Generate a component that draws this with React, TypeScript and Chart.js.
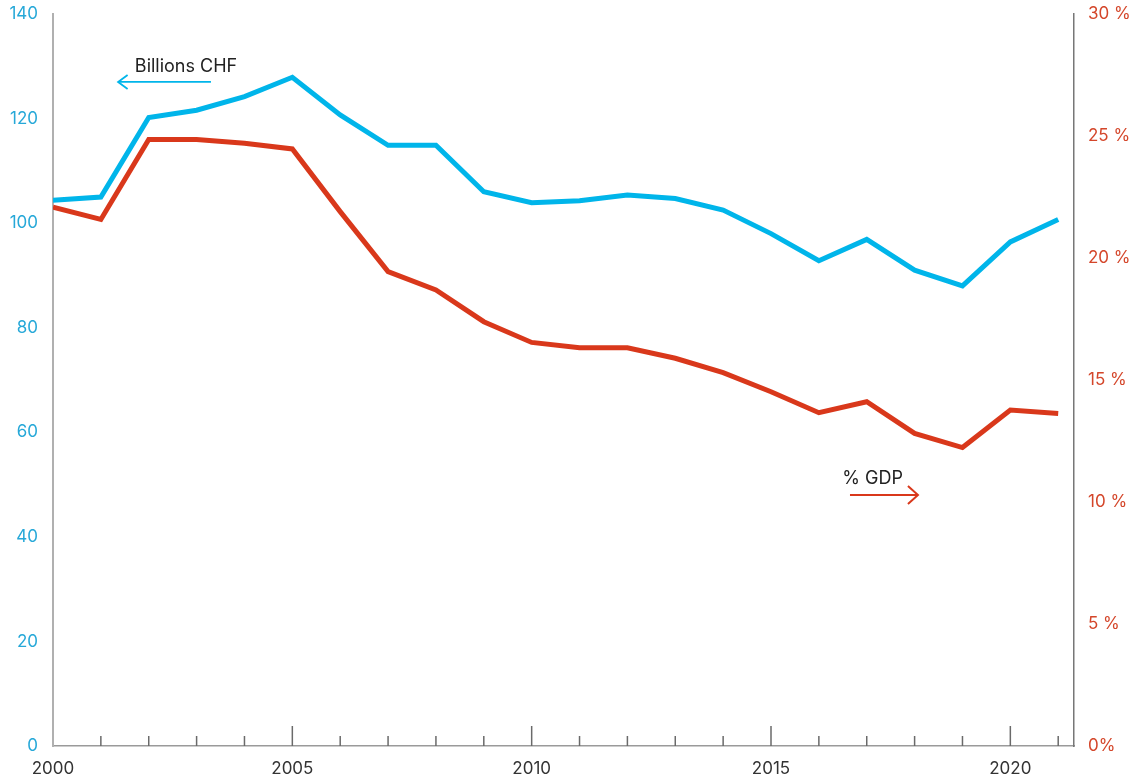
import React, { useEffect, useRef } from "react";
import { Chart, registerables } from "chart.js";

Chart.register(...registerables);

const years = [2000, 2001, 2002, 2003, 2004, 2005, 2006, 2007, 2008, 2009, 2010, 2011, 2012, 2013, 2014, 2015, 2016, 2017, 2018, 2019, 2020, 2021];
const billionsCHF = [104.4, 105.0, 120.2, 121.6, 124.2, 127.9, 120.7, 114.9, 114.9, 106.0, 103.9, 104.3, 105.4, 104.7, 102.5, 98.0, 92.8, 96.9, 91.0, 88.0, 96.4, 100.7];
const pctGDP = [22.08, 21.58, 24.86, 24.86, 24.7, 24.47, 21.9, 19.44, 18.69, 17.39, 16.54, 16.32, 16.32, 15.89, 15.3, 14.52, 13.66, 14.11, 12.81, 12.23, 13.77, 13.63];
const leftTicks = [0, 20, 40, 60, 80, 100, 120, 140];
const rightTicks = [0, 5, 10, 15, 20, 25, 30];
const xLabelYears = [2000, 2005, 2010, 2015, 2020];

const BLUE = "#00b5ea";
const BLUE_TEXT = "#26a8d8";
const RED = "#d9381b";
const RED_TEXT = "#d4462a";
const FONT = "Inter";

const overlayPlugin = {
  id: "overlay",
  afterDatasetsDraw(chart: any) {
    const { ctx, scales, chartArea } = chart;
    const x = scales.x;
    const yl = scales.y;
    const yr = scales.y1;
    ctx.save();
    // year tick marks inside plot
    ctx.strokeStyle = "#6a6a6a";
    ctx.lineWidth = 1.5;
    const base = chartArea.bottom;
    years.forEach((yv) => {
      if (yv === years[0]) return;
      const px = x.getPixelForValue(yv);
      const len = yv % 5 === 0 ? 20 : 10;
      ctx.beginPath();
      ctx.moveTo(px, base);
      ctx.lineTo(px, base - len);
      ctx.stroke();
    });

    // Billions CHF annotation
    ctx.font = `18px ${FONT}`;
    ctx.fillStyle = "#222";
    ctx.textBaseline = "middle";
    ctx.textAlign = "left";
    ctx.fillText("Billions CHF", x.getPixelForValue(2001.71), yl.getPixelForValue(129.85));
    const by = yl.getPixelForValue(127.0);
    const bx0 = x.getPixelForValue(2001.36);
    const bx1 = x.getPixelForValue(2003.3);
    ctx.strokeStyle = BLUE;
    ctx.lineWidth = 1.8;
    ctx.beginPath();
    ctx.moveTo(bx1, by);
    ctx.lineTo(bx0, by);
    ctx.stroke();
    ctx.beginPath();
    ctx.moveTo(bx0 + 9.5, by - 7);
    ctx.lineTo(bx0, by);
    ctx.lineTo(bx0 + 9.5, by + 7);
    ctx.stroke();

    // % GDP annotation
    ctx.fillStyle = "#222";
    ctx.fillText("% GDP", x.getPixelForValue(2016.49), yr.getPixelForValue(10.94));
    const ry = yr.getPixelForValue(10.29);
    const rx0 = x.getPixelForValue(2016.65);
    const rx1 = x.getPixelForValue(2018.07);
    ctx.strokeStyle = RED;
    ctx.lineWidth = 2;
    ctx.beginPath();
    ctx.moveTo(rx0, ry);
    ctx.lineTo(rx1, ry);
    ctx.stroke();
    ctx.beginPath();
    ctx.moveTo(rx1 - 10, ry - 9);
    ctx.lineTo(rx1, ry);
    ctx.lineTo(rx1 - 10, ry + 9);
    ctx.stroke();
    ctx.restore();
  },
};

export default function App() {
  const canvasRef = useRef<HTMLCanvasElement | null>(null);

  useEffect(() => {
    if (!canvasRef.current) return;
    const chart = new Chart(canvasRef.current, {
      type: "line",
      data: {
        datasets: [
          {
            label: "Billions CHF",
            data: years.map((yv, i) => ({ x: yv, y: billionsCHF[i] })),
            borderColor: BLUE,
            borderWidth: 5,
            pointRadius: 0,
            tension: 0,
            yAxisID: "y",
          },
          {
            label: "% GDP",
            data: years.map((yv, i) => ({ x: yv, y: pctGDP[i] })),
            borderColor: RED,
            borderWidth: 5,
            pointRadius: 0,
            tension: 0,
            yAxisID: "y1",
          },
        ],
      },
      options: {
        animation: false,
        responsive: false,
        layout: { padding: { top: 14, left: 0, right: 0, bottom: 0 } },
        plugins: {
          legend: { display: false },
          tooltip: { enabled: false },
        },
        scales: {
          x: {
            type: "linear",
            min: 2000,
            max: 2021.33,
            afterBuildTicks: (scale: any) => {
              scale.ticks = xLabelYears.map((v) => ({ value: v }));
            },
            afterFit: (scale: any) => {
              scale.height = 32;
              scale.paddingLeft = 0;
              scale.paddingRight = 0;
            },
            grid: { display: false, drawTicks: false },
            border: { display: true, color: "#9a9a9a", width: 1.5 },
            ticks: {
              padding: 13,
              color: "#333",
              font: { family: FONT, size: 17 },
              maxRotation: 0,
              autoSkip: false,
              callback: (v: any) => String(v),
            },
          },
          y: {
            type: "linear",
            position: "left",
            min: 0,
            max: 140,
            afterBuildTicks: (scale: any) => {
              scale.ticks = leftTicks.map((v) => ({ value: v }));
            },
            afterFit: (scale: any) => {
              scale.width = 53;
              scale.paddingTop = 0;
              scale.paddingBottom = 0;
            },
            grid: { display: false, drawTicks: false },
            border: { display: true, color: "#b0b0b0", width: 2 },
            ticks: {
              padding: 15,
              color: BLUE_TEXT,
              font: { family: FONT, size: 17 },
              callback: (v: any) => String(v),
            },
          },
          y1: {
            type: "linear",
            position: "right",
            min: 0,
            max: 30,
            afterBuildTicks: (scale: any) => {
              scale.ticks = rightTicks.map((v) => ({ value: v }));
            },
            afterFit: (scale: any) => {
              scale.width = 60;
              scale.paddingTop = 0;
              scale.paddingBottom = 0;
            },
            grid: { display: false, drawTicks: false },
            border: { display: true, color: "#777", width: 1.5 },
            ticks: {
              padding: 14,
              color: RED_TEXT,
              font: { family: FONT, size: 17 },
              callback: (v: any) => (v === 0 ? "0%" : `${v} %`),
            },
          },
        },
      },
      plugins: [overlayPlugin],
    } as any);
    return () => chart.destroy();
  }, []);

  return (
    <div style={{ position: "fixed", left: 0, top: 0, width: 1134, height: 778, background: "#fff" }}>
      <canvas ref={canvasRef} width={1134} height={778} style={{ display: "block", width: 1134, height: 778 }} />
    </div>
  );
}
